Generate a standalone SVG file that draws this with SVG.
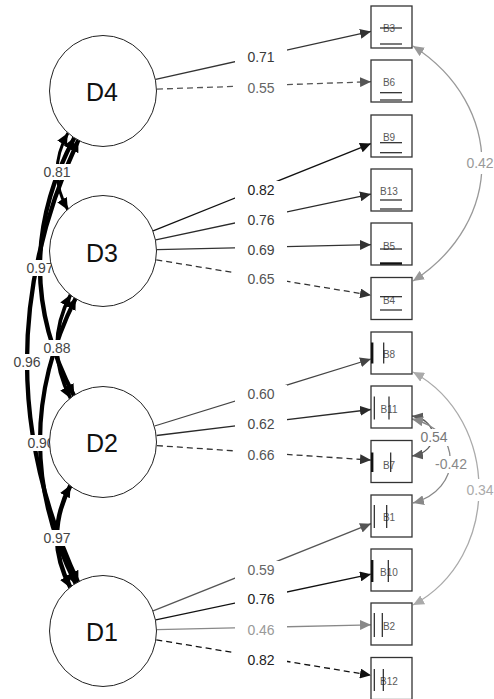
<svg xmlns="http://www.w3.org/2000/svg" width="494" height="699" viewBox="0 0 494 699">
<style>
.box{fill:#fff;stroke:#333;stroke-width:1.3}
.lat{fill:#fff;stroke:#222;stroke-width:1}
.ll{font-family:"Liberation Sans",Arial,sans-serif;font-size:25px;fill:#111;text-anchor:middle}
.bl{font-family:"Liberation Sans",Arial,sans-serif;font-size:10px;fill:#5a5a5a;text-anchor:middle}
.th{stroke:#222;stroke-width:1.2}
.tk{stroke:#111;stroke-width:2.4}
.e{fill:none;stroke-width:1.3}
.d{stroke-dasharray:6 4}
.arc{fill:none;stroke:#000;marker-start:url(#mk);marker-end:url(#mk)}
.el{font-family:"Liberation Sans",Arial,sans-serif;font-size:14px;text-anchor:middle}
.bg{fill:#fff}
</style>
<defs>
<marker id="mk" viewBox="0 0 12 11" refX="12" refY="5.5" markerWidth="12" markerHeight="11" markerUnits="userSpaceOnUse" orient="auto-start-reverse"><path d="M0,0 L12,5.5 L0,11 z" fill="#000"/></marker>
<marker id="m111" viewBox="0 0 11 10" refX="11" refY="5" markerWidth="11" markerHeight="10" markerUnits="userSpaceOnUse" orient="auto-start-reverse"><path d="M0,0 L11,5 L0,10 z" fill="#111"/></marker>
<marker id="m2a" viewBox="0 0 11 10" refX="11" refY="5" markerWidth="11" markerHeight="10" markerUnits="userSpaceOnUse" orient="auto-start-reverse"><path d="M0,0 L11,5 L0,10 z" fill="#2a2a2a"/></marker>
<marker id="m333" viewBox="0 0 11 10" refX="11" refY="5" markerWidth="11" markerHeight="10" markerUnits="userSpaceOnUse" orient="auto-start-reverse"><path d="M0,0 L11,5 L0,10 z" fill="#333"/></marker>
<marker id="m444" viewBox="0 0 11 10" refX="11" refY="5" markerWidth="11" markerHeight="10" markerUnits="userSpaceOnUse" orient="auto-start-reverse"><path d="M0,0 L11,5 L0,10 z" fill="#444"/></marker>
<marker id="m555" viewBox="0 0 11 10" refX="11" refY="5" markerWidth="11" markerHeight="10" markerUnits="userSpaceOnUse" orient="auto-start-reverse"><path d="M0,0 L11,5 L0,10 z" fill="#555"/></marker>
<marker id="m666" viewBox="0 0 11 10" refX="11" refY="5" markerWidth="11" markerHeight="10" markerUnits="userSpaceOnUse" orient="auto-start-reverse"><path d="M0,0 L11,5 L0,10 z" fill="#5a5a5a"/></marker>
<marker id="m888" viewBox="0 0 11 10" refX="11" refY="5" markerWidth="11" markerHeight="10" markerUnits="userSpaceOnUse" orient="auto-start-reverse"><path d="M0,0 L11,5 L0,10 z" fill="#888"/></marker>
<marker id="m999" viewBox="0 0 11 10" refX="11" refY="5" markerWidth="11" markerHeight="10" markerUnits="userSpaceOnUse" orient="auto-start-reverse"><path d="M0,0 L11,5 L0,10 z" fill="#999"/></marker>
<marker id="maaa" viewBox="0 0 11 10" refX="11" refY="5" markerWidth="11" markerHeight="10" markerUnits="userSpaceOnUse" orient="auto-start-reverse"><path d="M0,0 L11,5 L0,10 z" fill="#aaa"/></marker>
</defs>
<rect width="494" height="699" fill="#fff"/>
<g id="connectors">
<path class="e" d="M155.7,79.3 L371,31.4" stroke="#333" marker-end="url(#m333)"/>
<path class="e d" d="M157,89.1 L371,81.7" stroke="#555" marker-end="url(#m555)"/>
<path class="e" d="M153.1,230.9 L371,143.6" stroke="#111" marker-end="url(#m111)"/>
<path class="e" d="M155.8,239.8 L371,194.1" stroke="#2a2a2a" marker-end="url(#m2a)"/>
<path class="e" d="M157,249.7 L371,244.7" stroke="#333" marker-end="url(#m333)"/>
<path class="e d" d="M156.3,259.8 L371,295.2" stroke="#333" marker-end="url(#m333)"/>
<path class="e" d="M154.6,426 L371,359" stroke="#444" marker-end="url(#m444)"/>
<path class="e" d="M156.6,435.5 L371,409.5" stroke="#2a2a2a" marker-end="url(#m2a)"/>
<path class="e d" d="M156.9,445.6 L371,460.1" stroke="#333" marker-end="url(#m333)"/>
<path class="e" d="M153.1,610.9 L371,523.7" stroke="#555" marker-end="url(#m555)"/>
<path class="e" d="M155.8,619.8 L371,574.2" stroke="#111" marker-end="url(#m111)"/>
<path class="e" d="M157,629.7 L371,624.8" stroke="#888" marker-end="url(#m888)"/>
<path class="e d" d="M156.3,639.8 L371,675.3" stroke="#111" marker-end="url(#m111)"/>
<path class="arc" d="M67.9,132.9 Q46.2,171.5 67.9,210.1" stroke-width="3"/>
<path class="arc" d="M70.7,294.4 Q43.3,346.5 70.7,398.6" stroke-width="3.6"/>
<path class="arc" d="M70.6,485.1 Q43.3,536.5 70.6,587.9" stroke-width="4.5"/>
<path class="arc" d="M74.3,137.7 Q5.6,267 74.3,396.3" stroke-width="4.4"/>
<path class="arc" d="M75.9,297.7 Q4.1,441 75.9,584.3" stroke-width="4.2"/>
<path class="arc" d="M78.4,140 Q-24.4,361.5 78.4,583" stroke-width="4.3"/>
<path class="e" d="M413,46 C505,105 505,222 413,281" stroke="#999" stroke-width="1.2" marker-start="url(#m999)" marker-end="url(#m999)"/>
<path class="e" d="M413,372 C501,420 501,558 413,605" stroke="#aaa" stroke-width="1.1" marker-start="url(#maaa)" marker-end="url(#maaa)"/>
<path class="e" d="M412,416 C440,420 440,452 412,456" stroke="#5a5a5a" stroke-width="1.3" marker-start="url(#m666)" marker-end="url(#m666)"/>
<path class="e" d="M412,419 C463,430 463,490 413,503" stroke="#888" stroke-width="1.2" marker-start="url(#m888)" marker-end="url(#m888)"/>
</g>
<g id="edge-labels">
<rect class="bg" x="235" y="48" width="52" height="18"/><text class="el" x="261" y="62" fill="#3a3a3a">0.71</text>
<rect class="bg" x="235" y="79" width="52" height="18"/><text class="el" x="261" y="93" fill="#666">0.55</text>
<rect class="bg" x="235" y="181" width="52" height="18"/><text class="el" x="261" y="195" fill="#222">0.82</text>
<rect class="bg" x="235" y="211" width="52" height="18"/><text class="el" x="261" y="225" fill="#3a3a3a">0.76</text>
<rect class="bg" x="235" y="241" width="52" height="18"/><text class="el" x="261" y="255" fill="#444">0.69</text>
<rect class="bg" x="235" y="270" width="52" height="18"/><text class="el" x="261" y="284" fill="#555">0.65</text>
<rect class="bg" x="235" y="385" width="52" height="18"/><text class="el" x="261" y="399" fill="#555">0.60</text>
<rect class="bg" x="235" y="415" width="52" height="18"/><text class="el" x="261" y="429" fill="#4a4a4a">0.62</text>
<rect class="bg" x="235" y="446" width="52" height="18"/><text class="el" x="261" y="460" fill="#555">0.66</text>
<rect class="bg" x="235" y="561" width="52" height="18"/><text class="el" x="261" y="575" fill="#666">0.59</text>
<rect class="bg" x="235" y="590" width="52" height="18"/><text class="el" x="261" y="604" fill="#222">0.76</text>
<rect class="bg" x="235" y="621" width="52" height="18"/><text class="el" x="261" y="635" fill="#999">0.46</text>
<rect class="bg" x="235" y="651" width="52" height="18"/><text class="el" x="261" y="665" fill="#222">0.82</text>
<rect class="bg" x="41" y="164" width="32" height="16"/><text class="el" x="57" y="177" fill="#444">0.81</text>
<rect class="bg" x="24" y="260" width="32" height="16"/><text class="el" x="40" y="273" fill="#444">0.97</text>
<rect class="bg" x="11" y="354" width="32" height="16"/><text class="el" x="27" y="367" fill="#444">0.96</text>
<rect class="bg" x="41" y="340" width="32" height="16"/><text class="el" x="57" y="353" fill="#444">0.88</text>
<rect class="bg" x="25" y="435" width="32" height="16"/><text class="el" x="41" y="448" fill="#444">0.90</text>
<rect class="bg" x="41" y="530" width="32" height="16"/><text class="el" x="57" y="543" fill="#444">0.97</text>
<rect class="bg" x="464" y="152" width="32" height="22"/><text class="el" x="480" y="168" fill="#999">0.42</text>
<rect class="bg" x="464" y="479" width="32" height="22"/><text class="el" x="480" y="495" fill="#aaa">0.34</text>
<rect class="bg" x="419" y="429" width="30" height="17"/><text class="el" x="434" y="442" fill="#777">0.54</text>
<rect class="bg" x="434" y="456" width="34" height="17"/><text class="el" x="451" y="469" fill="#888">-0.42</text>
</g>
<g id="D4"><ellipse class="lat" cx="103" cy="91" rx="53.5" ry="55.5"/><text class="ll" x="102" y="101">D4</text></g>
<g id="D3"><ellipse class="lat" cx="103" cy="251" rx="53.5" ry="55.5"/><text class="ll" x="102" y="262">D3</text></g>
<g id="D2"><ellipse class="lat" cx="103" cy="442" rx="53.5" ry="55.5"/><text class="ll" x="102" y="452">D2</text></g>
<g id="D1"><ellipse class="lat" cx="103" cy="631" rx="53.5" ry="55.5"/><text class="ll" x="102" y="641">D1</text></g>
<g id="B3"><rect class="box" x="371" y="6" width="41" height="42"/><text class="bl" x="389" y="31.5">B3</text><line class="th" x1="380" y1="28" x2="402" y2="28"/><line class="th" x1="380" y1="44" x2="402" y2="44"/></g>
<g id="B6"><rect class="box" x="371" y="60" width="41" height="42"/><text class="bl" x="389" y="86">B6</text><line class="th" x1="380" y1="92.7" x2="402" y2="92.7"/><line class="th" x1="380" y1="100" x2="402" y2="100"/></g>
<g id="B9"><rect class="box" x="371" y="115" width="41" height="42"/><text class="bl" x="389" y="141">B9</text><line class="th" x1="380" y1="142.7" x2="402" y2="142.7"/><line class="th" x1="380" y1="152.7" x2="402" y2="152.7"/></g>
<g id="B13"><rect class="box" x="371" y="169" width="41" height="42"/><text class="bl" x="389" y="195">B13</text><line class="th" x1="380" y1="200" x2="402" y2="200"/><line class="th" x1="380" y1="209" x2="402" y2="209"/></g>
<g id="B5"><rect class="box" x="371" y="223" width="41" height="42"/><text class="bl" x="389" y="250">B5</text><line class="th" x1="380" y1="249" x2="402" y2="249"/><line class="tk" x1="380" y1="263.5" x2="402" y2="263.5"/></g>
<g id="B4"><rect class="box" x="371" y="277.5" width="41" height="42"/><text class="bl" x="389" y="303.5">B4</text><line class="th" x1="380" y1="296.7" x2="402" y2="296.7"/><line class="th" x1="380" y1="310" x2="402" y2="310"/></g>
<g id="B8"><rect class="box" x="371" y="332" width="41" height="42"/><text class="bl" x="389" y="357.5">B8</text><line class="tk" x1="372.2" y1="342.5" x2="372.2" y2="363.5"/><line class="th" x1="383.7" y1="342.5" x2="383.7" y2="363.5"/></g>
<g id="B11"><rect class="box" x="371" y="386" width="41" height="42"/><text class="bl" x="389" y="412.5">B11</text><line class="th" x1="374.3" y1="396.5" x2="374.3" y2="419.5"/><line class="th" x1="389" y1="396.5" x2="389" y2="419.5"/></g>
<g id="B7"><rect class="box" x="371" y="440.5" width="41" height="42"/><text class="bl" x="389" y="468.5">B7</text><line class="tk" x1="372.2" y1="452.5" x2="372.2" y2="472"/><line class="th" x1="390.7" y1="452.5" x2="390.7" y2="472"/></g>
<g id="B1"><rect class="box" x="371" y="495" width="41" height="42"/><text class="bl" x="389" y="521">B1</text><line class="th" x1="374.3" y1="505" x2="374.3" y2="528"/><line class="th" x1="386.7" y1="505" x2="386.7" y2="528"/></g>
<g id="B10"><rect class="box" x="371" y="549" width="41" height="42"/><text class="bl" x="389" y="576">B10</text><line class="tk" x1="372.2" y1="560" x2="372.2" y2="582"/><line class="th" x1="388.3" y1="560" x2="388.3" y2="582"/></g>
<g id="B2"><rect class="box" x="371" y="603" width="41" height="42"/><text class="bl" x="389" y="629.5">B2</text><line class="th" x1="374.3" y1="613" x2="374.3" y2="637"/><line class="th" x1="382.3" y1="613" x2="382.3" y2="637"/></g>
<g id="B12"><rect class="box" x="371" y="657.5" width="41" height="42"/><text class="bl" x="389" y="684.5">B12</text><line class="th" x1="374.3" y1="669" x2="374.3" y2="691"/><line class="th" x1="383.3" y1="669" x2="383.3" y2="691"/></g>
</svg>
